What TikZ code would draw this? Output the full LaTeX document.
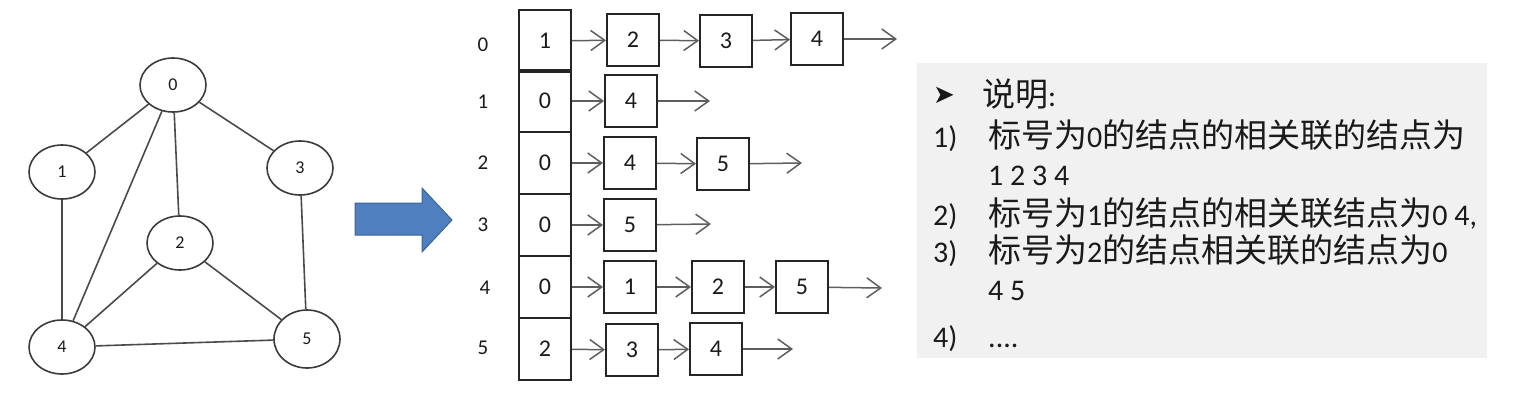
\documentclass[tikz,border=0pt]{standalone}
\usepackage{fontspec}
\setmainfont{Carlito}
\newfontfamily\zhfont{Noto Sans CJK SC}
\newfontfamily\symfont{DejaVu Sans}
\usetikzlibrary{shapes.geometric,arrows.meta}
\definecolor{edgegray}{HTML}{4A4A4A}
\definecolor{linkgray}{HTML}{5E5E5E}
\definecolor{boxline}{HTML}{252525}
\definecolor{arrowblue}{HTML}{4F7FBF}
\definecolor{arrowborder}{HTML}{3A639C}
\definecolor{panelgray}{HTML}{F1F1F1}
\definecolor{textdark}{HTML}{1A1A1A}
\newcommand\zh[1]{{\zhfont\fontsize{33}{33}\selectfont #1}}
\begin{document}
\begin{tikzpicture}[x=1pt,y=-1pt,
 vert/.style={ellipse,draw=boxline!90,line width=1.6pt,minimum width=66pt,minimum height=54pt,inner sep=0pt,font=\fontsize{18}{18}\selectfont,text=textdark},
 edge/.style={draw=edgegray,line width=1.6pt},
 headbox/.style={rectangle,draw=boxline,line width=2.4pt,minimum width=52pt,minimum height=62pt,inner sep=0pt,font=\fontsize{24}{24}\selectfont,text=textdark},
 listbox/.style={rectangle,draw=boxline,line width=2pt,minimum width=52pt,minimum height=52pt,inner sep=0pt,font=\fontsize{24}{24}\selectfont,text=textdark},
 rowlabel/.style={font=\fontsize{21}{21}\selectfont,inner sep=0pt,text=textdark},
 link/.style={draw=linkgray,line width=1.5pt,-{Straight Barb[length=14pt,width=20pt,line width=1.5pt]}},
 txt/.style={anchor=base west,inner sep=0pt,font=\fontsize{30}{30}\selectfont,text=textdark},
]
\useasboundingbox (0,0) rectangle (1528,400);

% ---- graph ----
\node[vert] (v0) at (173,85) {0};
\node[vert] (v1) at (62,172) {1};
\node[vert] (v3) at (300,168) {3};
\node[vert] (v2) at (180,243) {2};
\node[vert] (v4) at (62,347) {4};
\node[vert,minimum height=58pt] (v5) at (307,339) {5};
\draw[edge] (v0) -- (v1);
\draw[edge] (v0) -- (v3);
\draw[edge] (v0) -- (v2);
\draw[edge] (v0) -- (v4);
\draw[edge] (v1) -- (v4);
\draw[edge] (v3) -- (v5);
\draw[edge] (v2) -- (v4);
\draw[edge] (v2) -- (v5);
\draw[edge] (v4) -- (v5);

% ---- big arrow ----
\filldraw[fill=arrowblue,draw=arrowborder,line width=1pt]
  (355,203) -- (422,203) -- (422,188) -- (452,220) -- (422,252) -- (422,235) -- (355,235) -- cycle;

% ---- adjacency list ----
\node[rowlabel] (r0) at (483,45) {0};
\node[rowlabel] (r1) at (483,102) {1};
\node[rowlabel] (r2) at (483,163) {2};
\node[rowlabel] (r3) at (483,225) {3};
\node[rowlabel] (r4) at (485,288) {4};
\node[rowlabel] (r5) at (483,348) {5};

\node[headbox] (h0) at (545,41) {1};
\node[headbox] (h1) at (545,101) {0};
\node[headbox] (h2) at (545,163) {0};
\node[headbox] (h3) at (545,225) {0};
\node[headbox] (h4) at (545,287) {0};
\node[headbox] (h5) at (545,349) {2};

% row 0
\node[listbox] (b02) at (633,40) {2};
\node[listbox] (b03) at (726,41) {3};
\node[listbox] (b04) at (817,39) {4};
\coordinate (e0) at (897,39);
\draw[link] (h0) -- (b02);
\draw[link] (b02) -- (b03);
\draw[link] (b03) -- (b04);
\draw[link] (b04) -- (e0);
% row 1
\node[listbox] (b14) at (631,101) {4};
\coordinate (e1) at (710,101);
\draw[link] (h1) -- (b14);
\draw[link] (b14) -- (e1);
% row 2
\node[listbox] (b24) at (630,163) {4};
\node[listbox] (b25) at (723,164) {5};
\coordinate (e2) at (802,163);
\draw[link] (h2) -- (b24);
\draw[link] (b24) -- (b25);
\draw[link] (b25) -- (e2);
% row 3
\node[listbox] (b35) at (630,225) {5};
\coordinate (e3) at (711,224);
\draw[link] (h3) -- (b35);
\draw[link] (b35) -- (e3);
% row 4
\node[listbox] (b41) at (630,287) {1};
\node[listbox] (b42) at (718,287) {2};
\node[listbox] (b45) at (802,287) {5};
\coordinate (e4) at (882,288);
\draw[link] (h4) -- (b41);
\draw[link] (b41) -- (b42);
\draw[link] (b42) -- (b45);
\draw[link] (b45) -- (e4);
% row 5
\node[listbox] (b53) at (632,350) {3};
\node[listbox] (b54) at (716,349) {4};
\coordinate (e5) at (793,349);
\draw[link] (h5) -- (b53);
\draw[link] (b53) -- (b54);
\draw[link] (b54) -- (e5);

% ---- explanation panel ----
\fill[panelgray] (917,63) rectangle (1487,358);
\node[anchor=west,inner sep=0pt,text=textdark,font=\symfont\fontsize{26}{26}\selectfont] (bul) at (933,95) {➤};
\node[txt] (t1) at (982,106) {\zh{说明}:};
\node[txt] (n1) at (933,147) {1)};
\node[txt] (l1) at (988,147) {\zh{标号为}0\zh{的结点的相关联的结点为}};
\node[txt] (l1b) at (988,185) {1 2 3 4};
\node[txt] (n2) at (933,225) {2)};
\node[txt] (l2) at (988,225) {\zh{标号为}1\zh{的结点的相关联结点为}0 4,};
\node[txt] (n3) at (933,262) {3)};
\node[txt] (l3) at (988,262) {\zh{标号为}2\zh{的结点相关联的结点为}0};
\node[txt] (l3b) at (988,300) {4 5};
\node[txt] (n4) at (933,347) {4)};
\node[txt] (l4) at (988,347) {....};
\end{tikzpicture}
\end{document}
